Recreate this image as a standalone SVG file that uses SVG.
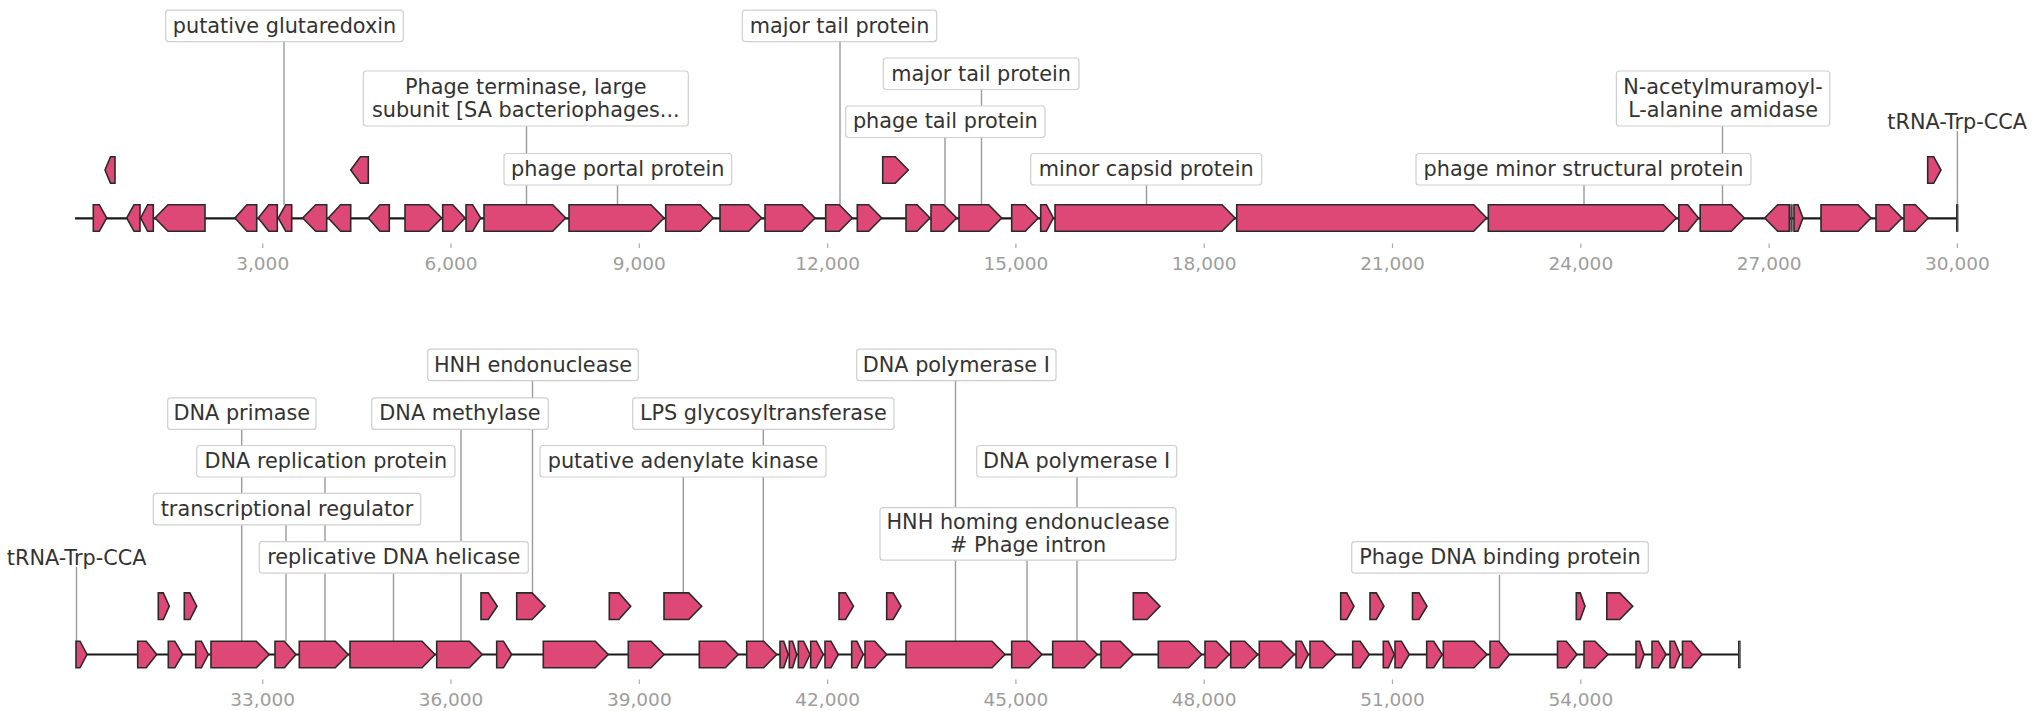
<svg xmlns="http://www.w3.org/2000/svg" width="2032" height="711" viewBox="0 0 2032 711">
<style>
.bb{stroke:#1a1a1a;stroke-width:2.2;fill:none}
.gene{fill:#dd4876;stroke:#2a2a2a;stroke-width:1.6;stroke-linejoin:miter}
.thin{fill:#dd4876;stroke:#2a2a2a;stroke-width:1}
.lead{stroke:#9a9a9a;stroke-width:1.4;fill:none}
.box{fill:#ffffff;stroke:#cfcfcf;stroke-width:1.2}
.lbl{font-family:"DejaVu Sans","Liberation Sans",sans-serif;font-size:20.8px;fill:#333333;text-anchor:middle}
.tick{stroke:#aaaaaa;stroke-width:1.2}
.tl{font-family:"DejaVu Sans","Liberation Sans",sans-serif;font-size:18.5px;fill:#9d9d9d;text-anchor:middle}
</style>
<rect x="0" y="0" width="2032" height="711" fill="#ffffff"/>

<g id="axes">
<line class="bb" x1="75" y1="218.3" x2="1957" y2="218.3"/>
<line class="bb" x1="76" y1="654.5" x2="1739.5" y2="654.5"/>
<g class="tick">
<line x1="262.7" y1="243.5" x2="262.7" y2="248"/><line x1="451" y1="243.5" x2="451" y2="248"/><line x1="639.3" y1="243.5" x2="639.3" y2="248"/><line x1="827.6" y1="243.5" x2="827.6" y2="248"/><line x1="1015.9" y1="243.5" x2="1015.9" y2="248"/><line x1="1204.2" y1="243.5" x2="1204.2" y2="248"/><line x1="1392.5" y1="243.5" x2="1392.5" y2="248"/><line x1="1580.8" y1="243.5" x2="1580.8" y2="248"/><line x1="1769.1" y1="243.5" x2="1769.1" y2="248"/><line x1="1957.4" y1="243.5" x2="1957.4" y2="248"/>
<line x1="262.7" y1="679.5" x2="262.7" y2="684"/><line x1="451" y1="679.5" x2="451" y2="684"/><line x1="639.3" y1="679.5" x2="639.3" y2="684"/><line x1="827.6" y1="679.5" x2="827.6" y2="684"/><line x1="1015.9" y1="679.5" x2="1015.9" y2="684"/><line x1="1204.2" y1="679.5" x2="1204.2" y2="684"/><line x1="1392.5" y1="679.5" x2="1392.5" y2="684"/><line x1="1580.8" y1="679.5" x2="1580.8" y2="684"/>
</g>
<g class="tl">
<text x="262.7" y="270">3,000</text><text x="451" y="270">6,000</text><text x="639.3" y="270">9,000</text><text x="827.6" y="270">12,000</text><text x="1015.9" y="270">15,000</text><text x="1204.2" y="270">18,000</text><text x="1392.5" y="270">21,000</text><text x="1580.8" y="270">24,000</text><text x="1769.1" y="270">27,000</text><text x="1957.4" y="270">30,000</text>
<text x="262.7" y="705.5">33,000</text><text x="451" y="705.5">36,000</text><text x="639.3" y="705.5">39,000</text><text x="827.6" y="705.5">42,000</text><text x="1015.9" y="705.5">45,000</text><text x="1204.2" y="705.5">48,000</text><text x="1392.5" y="705.5">51,000</text><text x="1580.8" y="705.5">54,000</text>
</g>
</g>

<g id="connectors" class="lead">
<line x1="284" y1="41" x2="284" y2="204.7"/>
<line x1="526.5" y1="126" x2="526.5" y2="204.7"/>
<line x1="617.5" y1="185" x2="617.5" y2="204.7"/>
<line x1="840" y1="41" x2="840" y2="204.7"/>
<line x1="981.5" y1="89" x2="981.5" y2="204.7"/>
<line x1="945" y1="136" x2="945" y2="204.7"/>
<line x1="1146.5" y1="185" x2="1146.5" y2="204.7"/>
<line x1="1584" y1="185" x2="1584" y2="204.7"/>
<line x1="1722.5" y1="126" x2="1722.5" y2="204.7"/>
<line x1="1957.4" y1="131" x2="1957.4" y2="204.7"/>
<line x1="76.5" y1="567" x2="76.5" y2="641.2"/>
<line x1="241.7" y1="429" x2="241.7" y2="641.2"/>
<line x1="325" y1="476.7" x2="325" y2="641.2"/>
<line x1="286" y1="525" x2="286" y2="641.2"/>
<line x1="393.5" y1="573" x2="393.5" y2="641.2"/>
<line x1="461" y1="429" x2="461" y2="641.2"/>
<line x1="532.5" y1="380.5" x2="532.5" y2="592.9"/>
<line x1="763.3" y1="429" x2="763.3" y2="641.2"/>
<line x1="683.3" y1="476.7" x2="683.3" y2="592.9"/>
<line x1="955.5" y1="380.5" x2="955.5" y2="641.2"/>
<line x1="1077" y1="476.7" x2="1077" y2="641.2"/>
<line x1="1027" y1="560" x2="1027" y2="641.2"/>
<line x1="1499.5" y1="575" x2="1499.5" y2="641.2"/>
</g>

<g id="lbl-glutaredoxin"><rect class="box" x="165.7" y="10.1" width="237.6" height="31.5" rx="3"/><text class="lbl" x="284.5" y="32.5">putative glutaredoxin</text></g>
<g id="lbl-terminase"><rect class="box" x="363.3" y="71" width="325" height="55" rx="3"/><text class="lbl" x="525.8" y="94">Phage terminase, large</text><text class="lbl" x="525.8" y="116.5">subunit [SA bacteriophages...</text></g>
<g id="lbl-portal"><rect class="box" x="504" y="153.5" width="227.7" height="31.5" rx="3"/><text class="lbl" x="617.8" y="175.9">phage portal protein</text></g>
<g id="lbl-majortail1"><rect class="box" x="742.3" y="10.1" width="194.4" height="31.5" rx="3"/><text class="lbl" x="839.5" y="32.5">major tail protein</text></g>
<g id="lbl-majortail2"><rect class="box" x="883.3" y="58" width="195.7" height="31.5" rx="3"/><text class="lbl" x="981.2" y="80.5">major tail protein</text></g>
<g id="lbl-phagetail"><rect class="box" x="845.7" y="106" width="199.3" height="31.5" rx="3"/><text class="lbl" x="945.3" y="128.4">phage tail protein</text></g>
<g id="lbl-minorcapsid"><rect class="box" x="1030.7" y="153.5" width="231" height="31.5" rx="3"/><text class="lbl" x="1146.2" y="175.9">minor capsid protein</text></g>
<g id="lbl-minorstructural"><rect class="box" x="1416" y="153.5" width="335" height="31.5" rx="3"/><text class="lbl" x="1583.5" y="175.9">phage minor structural protein</text></g>
<g id="lbl-amidase"><rect class="box" x="1616.4" y="71" width="213.4" height="55" rx="3"/><text class="lbl" x="1723.1" y="94">N-acetylmuramoyl-</text><text class="lbl" x="1723.1" y="116.5">L-alanine amidase</text></g>
<g id="lbl-trna1"><text class="lbl" x="1957.2" y="128.5">tRNA-Trp-CCA</text></g>

<g id="lbl-trna2"><text class="lbl" x="76.7" y="565">tRNA-Trp-CCA</text></g>
<g id="lbl-primase"><rect class="box" x="167.7" y="397.9" width="148.3" height="31.5" rx="3"/><text class="lbl" x="241.8" y="420.4">DNA primase</text></g>
<g id="lbl-replication"><rect class="box" x="196.7" y="445.5" width="258.3" height="31.5" rx="3"/><text class="lbl" x="325.8" y="468">DNA replication protein</text></g>
<g id="lbl-transcriptional"><rect class="box" x="153.3" y="493.4" width="267.4" height="31.5" rx="3"/><text class="lbl" x="287" y="515.9">transcriptional regulator</text></g>
<g id="lbl-helicase"><rect class="box" x="259.3" y="541.7" width="269" height="31.5" rx="3"/><text class="lbl" x="393.8" y="564.2">replicative DNA helicase</text></g>
<g id="lbl-methylase"><rect class="box" x="371.7" y="397.9" width="176.6" height="31.5" rx="3"/><text class="lbl" x="460" y="420.4">DNA methylase</text></g>
<g id="lbl-hnh"><rect class="box" x="427.7" y="349.2" width="210.6" height="31.5" rx="3"/><text class="lbl" x="533" y="371.7">HNH endonuclease</text></g>
<g id="lbl-lps"><rect class="box" x="632.7" y="397.9" width="261.3" height="31.5" rx="3"/><text class="lbl" x="763.3" y="420.4">LPS glycosyltransferase</text></g>
<g id="lbl-adenylate"><rect class="box" x="540" y="445.5" width="286" height="31.5" rx="3"/><text class="lbl" x="683" y="468">putative adenylate kinase</text></g>
<g id="lbl-polI-1"><rect class="box" x="856.7" y="349.2" width="199.3" height="31.5" rx="3"/><text class="lbl" x="956.3" y="371.7">DNA polymerase I</text></g>
<g id="lbl-polI-2"><rect class="box" x="976.7" y="445.5" width="200" height="31.5" rx="3"/><text class="lbl" x="1076.7" y="468">DNA polymerase I</text></g>
<g id="lbl-homing"><rect class="box" x="880" y="507.7" width="296" height="52.5" rx="3"/><text class="lbl" x="1028" y="529">HNH homing endonuclease</text><text class="lbl" x="1028" y="551.5"># Phage intron</text></g>
<g id="lbl-dnabinding"><rect class="box" x="1351.7" y="541.7" width="296.6" height="31.5" rx="3"/><text class="lbl" x="1500" y="564.2">Phage DNA binding protein</text></g>

<g id="genes-top" class="gene">
<g id="t1"><polygon points="93.3,204.7 99.3,204.7 106.7,218 99.3,231.3 93.3,231.3"/></g>
<g id="t2"><polygon points="140,204.7 134,204.7 126.7,218 134,231.3 140,231.3"/></g>
<g id="t3"><polygon points="153.3,204.7 147.6,204.7 140.7,218 147.6,231.3 153.3,231.3"/></g>
<g id="t4"><polygon points="205,204.7 168,204.7 155,218 168,231.3 205,231.3"/></g>
<g id="t5"><polygon points="256.7,204.7 246.9,204.7 235,218 246.9,231.3 256.7,231.3"/></g>
<g id="t6"><polygon points="277.3,204.7 268.8,204.7 258.3,218 268.8,231.3 277.3,231.3"/></g>
<g id="t7"><polygon points="291.7,204.7 285.7,204.7 278.3,218 285.7,231.3 291.7,231.3"/></g>
<g id="t8"><polygon points="326.7,204.7 315.7,204.7 302.7,218 315.7,231.3 326.7,231.3"/></g>
<g id="t9"><polygon points="350.7,204.7 340.6,204.7 328.3,218 340.6,231.3 350.7,231.3"/></g>
<g id="t10"><polygon points="389.3,204.7 379.9,204.7 368.3,218 379.9,231.3 389.3,231.3"/></g>
<g id="t11"><polygon points="405,204.7 428.7,204.7 441.7,218 428.7,231.3 405,231.3"/></g>
<g id="t12"><polygon points="442.7,204.7 452.7,204.7 465,218 452.7,231.3 442.7,231.3"/></g>
<g id="t13"><polygon points="466,204.7 472.6,204.7 480.7,218 472.6,231.3 466,231.3"/></g>
<g id="t14"><polygon points="484,204.7 552.7,204.7 565.7,218 552.7,231.3 484,231.3"/></g>
<g id="t15"><polygon points="569,204.7 651,204.7 664,218 651,231.3 569,231.3"/></g>
<g id="t16"><polygon points="665.7,204.7 700.3,204.7 713.3,218 700.3,231.3 665.7,231.3"/></g>
<g id="t17"><polygon points="720,204.7 748.7,204.7 761.7,218 748.7,231.3 720,231.3"/></g>
<g id="t18"><polygon points="765,204.7 802,204.7 815,218 802,231.3 765,231.3"/></g>
<g id="t19"><polygon points="825.7,204.7 839.3,204.7 852.3,218 839.3,231.3 825.7,231.3"/></g>
<g id="t20"><polygon points="857.3,204.7 868.7,204.7 881.7,218 868.7,231.3 857.3,231.3"/></g>
<g id="t21"><polygon points="906,204.7 917,204.7 930,218 917,231.3 906,231.3"/></g>
<g id="t22"><polygon points="931,204.7 943.7,204.7 956.7,218 943.7,231.3 931,231.3"/></g>
<g id="t23"><polygon points="959,204.7 988.7,204.7 1001.7,218 988.7,231.3 959,231.3"/></g>
<g id="t24"><polygon points="1011.7,204.7 1025.3,204.7 1038.3,218 1025.3,231.3 1011.7,231.3"/></g>
<g id="t25"><polygon points="1040.7,204.7 1046.4,204.7 1053.3,218 1046.4,231.3 1040.7,231.3"/></g>
<g id="t26"><polygon points="1055,204.7 1222,204.7 1235,218 1222,231.3 1055,231.3"/></g>
<g id="t27"><polygon points="1236.7,204.7 1473.7,204.7 1486.7,218 1473.7,231.3 1236.7,231.3"/></g>
<g id="t28"><polygon points="1488.3,204.7 1663.4,204.7 1676.4,218 1663.4,231.3 1488.3,231.3"/></g>
<g id="t29"><polygon points="1678.8,204.7 1687.7,204.7 1698.5,218 1687.7,231.3 1678.8,231.3"/></g>
<g id="t30"><polygon points="1700.2,204.7 1731.3,204.7 1744.3,218 1731.3,231.3 1700.2,231.3"/></g>
<g id="t31"><polygon points="1789.3,204.7 1777.7,204.7 1764.7,218 1777.7,231.3 1789.3,231.3"/></g>
<g id="t32"><rect class="thin" x="1790.9" y="204.7" width="1.2" height="26.6"/></g>
<g id="t33"><polygon points="1794,204.7 1798,204.7 1803,218 1798,231.3 1794,231.3"/></g>
<g id="t34"><polygon points="1821,204.7 1858,204.7 1871,218 1858,231.3 1821,231.3"/></g>
<g id="t35"><polygon points="1876,204.7 1889,204.7 1902,218 1889,231.3 1876,231.3"/></g>
<g id="t36"><polygon points="1904,204.7 1915.3,204.7 1928.3,218 1915.3,231.3 1904,231.3"/></g>
<g id="t37"><rect class="thin" x="1956.5" y="204.7" width="1.4" height="26.6"/></g>
<g id="tu1"><polygon points="115,156.7 110.5,156.7 105,170 110.5,183.3 115,183.3"/></g>
<g id="tu2"><polygon points="368.3,156.7 360.4,156.7 350.7,170 360.4,183.3 368.3,183.3"/></g>
<g id="tu3"><polygon points="882.7,156.7 895.3,156.7 908.3,170 895.3,183.3 882.7,183.3"/></g>
<g id="tu4"><polygon points="1927.7,156.7 1933.7,156.7 1941,170 1933.7,183.3 1927.7,183.3"/></g>
</g>

<g id="genes-bottom" class="gene">
<g id="b0"><polygon points="76,641.2 80,641.2 87,654.5 80,667.8 76,667.8"/></g>
<g id="b1"><polygon points="137.7,641.2 146.2,641.2 156.7,654.5 146.2,667.8 137.7,667.8"/></g>
<g id="b2"><polygon points="168.3,641.2 174.8,641.2 182.7,654.5 174.8,667.8 168.3,667.8"/></g>
<g id="b3"><polygon points="195.7,641.2 201.4,641.2 208.3,654.5 201.4,667.8 195.7,667.8"/></g>
<g id="b4"><polygon points="211,641.2 256.3,641.2 269.3,654.5 256.3,667.8 211,667.8"/></g>
<g id="b5"><polygon points="275,641.2 284.4,641.2 296,654.5 284.4,667.8 275,667.8"/></g>
<g id="b6"><polygon points="299.3,641.2 335.3,641.2 348.3,654.5 335.3,667.8 299.3,667.8"/></g>
<g id="b7"><polygon points="350,641.2 422,641.2 435,654.5 422,667.8 350,667.8"/></g>
<g id="b8"><polygon points="436.7,641.2 469.3,641.2 482.3,654.5 469.3,667.8 436.7,667.8"/></g>
<g id="b9"><polygon points="496.7,641.2 503.4,641.2 511.7,654.5 503.4,667.8 496.7,667.8"/></g>
<g id="b10"><polygon points="543.3,641.2 595.3,641.2 608.3,654.5 595.3,667.8 543.3,667.8"/></g>
<g id="b11"><polygon points="628.3,641.2 651,641.2 664,654.5 651,667.8 628.3,667.8"/></g>
<g id="b12"><polygon points="699.3,641.2 725.3,641.2 738.3,654.5 725.3,667.8 699.3,667.8"/></g>
<g id="b13"><polygon points="746.7,641.2 763.7,641.2 776.7,654.5 763.7,667.8 746.7,667.8"/></g>
<g id="b14"><polygon points="780,641.2 783.7,641.2 788.3,654.5 783.7,667.8 780,667.8"/></g>
<g id="b15"><polygon points="789.3,641.2 792.6,641.2 796.7,654.5 792.6,667.8 789.3,667.8"/></g>
<g id="b16"><polygon points="798.3,641.2 803.6,641.2 810,654.5 803.6,667.8 798.3,667.8"/></g>
<g id="b17"><polygon points="810.7,641.2 816.4,641.2 823.3,654.5 816.4,667.8 810.7,667.8"/></g>
<g id="b18"><polygon points="825,641.2 831,641.2 838.3,654.5 831,667.8 825,667.8"/></g>
<g id="b19"><polygon points="851.7,641.2 856.9,641.2 863.3,654.5 856.9,667.8 851.7,667.8"/></g>
<g id="b20"><polygon points="865,641.2 874.8,641.2 886.7,654.5 874.8,667.8 865,667.8"/></g>
<g id="b21"><polygon points="906,641.2 992,641.2 1005,654.5 992,667.8 906,667.8"/></g>
<g id="b22"><polygon points="1011.7,641.2 1029,641.2 1042,654.5 1029,667.8 1011.7,667.8"/></g>
<g id="b23"><polygon points="1052.7,641.2 1084.3,641.2 1097.3,654.5 1084.3,667.8 1052.7,667.8"/></g>
<g id="b24"><polygon points="1101,641.2 1120.3,641.2 1133.3,654.5 1120.3,667.8 1101,667.8"/></g>
<g id="b25"><polygon points="1158.3,641.2 1188.7,641.2 1201.7,654.5 1188.7,667.8 1158.3,667.8"/></g>
<g id="b26"><polygon points="1205,641.2 1216.3,641.2 1229.3,654.5 1216.3,667.8 1205,667.8"/></g>
<g id="b27"><polygon points="1230.7,641.2 1244.7,641.2 1257.7,654.5 1244.7,667.8 1230.7,667.8"/></g>
<g id="b28"><polygon points="1259.3,641.2 1281.3,641.2 1294.3,654.5 1281.3,667.8 1259.3,667.8"/></g>
<g id="b29"><polygon points="1296,641.2 1301.5,641.2 1308.3,654.5 1301.5,667.8 1296,667.8"/></g>
<g id="b30"><polygon points="1310,641.2 1323,641.2 1336,654.5 1323,667.8 1310,667.8"/></g>
<g id="b31"><polygon points="1352.7,641.2 1360.2,641.2 1369.3,654.5 1360.2,667.8 1352.7,667.8"/></g>
<g id="b32"><polygon points="1383.3,641.2 1388.3,641.2 1394.3,654.5 1388.3,667.8 1383.3,667.8"/></g>
<g id="b33"><polygon points="1395,641.2 1401.4,641.2 1409.3,654.5 1401.4,667.8 1395,667.8"/></g>
<g id="b34"><polygon points="1426.7,641.2 1433.7,641.2 1442.3,654.5 1433.7,667.8 1426.7,667.8"/></g>
<g id="b35"><polygon points="1443.3,641.2 1474,641.2 1487,654.5 1474,667.8 1443.3,667.8"/></g>
<g id="b36"><polygon points="1490,641.2 1498.8,641.2 1509.5,654.5 1498.8,667.8 1490,667.8"/></g>
<g id="b37"><polygon points="1557.5,641.2 1566.3,641.2 1577,654.5 1566.3,667.8 1557.5,667.8"/></g>
<g id="b38"><polygon points="1584,641.2 1595,641.2 1608,654.5 1595,667.8 1584,667.8"/></g>
<g id="b39"><polygon points="1636,641.2 1639.6,641.2 1644,654.5 1639.6,667.8 1636,667.8"/></g>
<g id="b40"><polygon points="1652,641.2 1658.3,641.2 1666,654.5 1658.3,667.8 1652,667.8"/></g>
<g id="b41"><polygon points="1670,641.2 1674.5,641.2 1680,654.5 1674.5,667.8 1670,667.8"/></g>
<g id="b42"><polygon points="1682.5,641.2 1691.3,641.2 1702,654.5 1691.3,667.8 1682.5,667.8"/></g>
<g id="b43"><rect class="thin" x="1738.5" y="641.2" width="1.6" height="26.6"/></g>
<g id="bu1"><polygon points="158.3,592.9 163.3,592.9 169.3,606.2 163.3,619.5 158.3,619.5"/></g>
<g id="bu2"><polygon points="184.3,592.9 189.9,592.9 196.7,606.2 189.9,619.5 184.3,619.5"/></g>
<g id="bu3"><polygon points="481,592.9 488.3,592.9 497.3,606.2 488.3,619.5 481,619.5"/></g>
<g id="bu4"><polygon points="516.7,592.9 532,592.9 545,606.2 532,619.5 516.7,619.5"/></g>
<g id="bu5"><polygon points="609.3,592.9 618.9,592.9 630.7,606.2 618.9,619.5 609.3,619.5"/></g>
<g id="bu6"><polygon points="664,592.9 688.7,592.9 701.7,606.2 688.7,619.5 664,619.5"/></g>
<g id="bu7"><polygon points="839,592.9 845.5,592.9 853.5,606.2 845.5,619.5 839,619.5"/></g>
<g id="bu8"><polygon points="886.7,592.9 893.1,592.9 901,606.2 893.1,619.5 886.7,619.5"/></g>
<g id="bu9"><polygon points="1133.3,592.9 1147,592.9 1160,606.2 1147,619.5 1133.3,619.5"/></g>
<g id="bu10"><polygon points="1340.7,592.9 1346.7,592.9 1354,606.2 1346.7,619.5 1340.7,619.5"/></g>
<g id="bu11"><polygon points="1370,592.9 1376.3,592.9 1384,606.2 1376.3,619.5 1370,619.5"/></g>
<g id="bu12"><polygon points="1412.5,592.9 1419,592.9 1427,606.2 1419,619.5 1412.5,619.5"/></g>
<g id="bu13"><polygon points="1576.3,592.9 1580.2,592.9 1585,606.2 1580.2,619.5 1576.3,619.5"/></g>
<g id="bu14"><polygon points="1606.8,592.9 1619.7,592.9 1632.7,606.2 1619.7,619.5 1606.8,619.5"/></g>
</g>
</svg>
